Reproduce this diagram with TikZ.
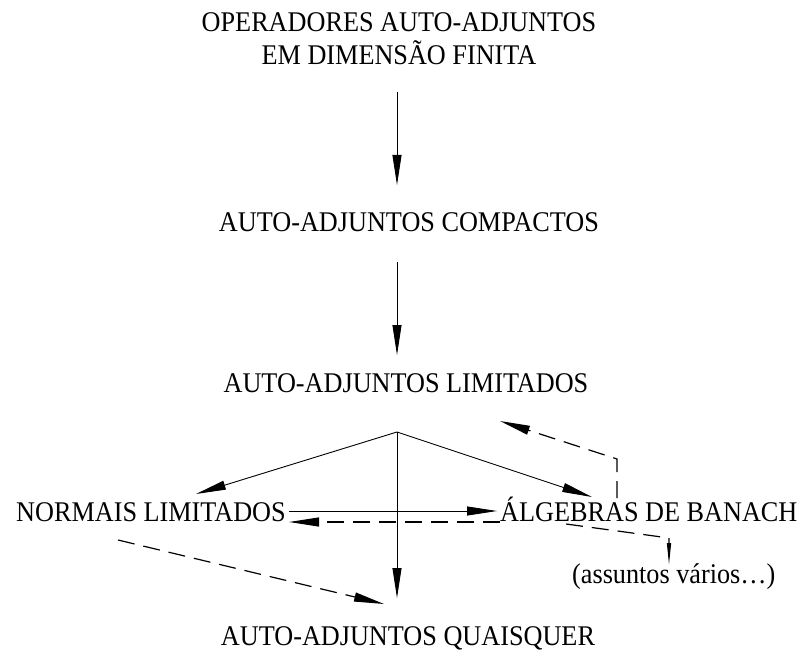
\documentclass[tikz,border=0pt]{standalone}
\usepackage{fontspec}
\setmainfont{Liberation Serif}[FakeStretch=0.92]
\usetikzlibrary{arrows.meta}
\tikzset{
  lbl/.style={inner sep=0pt, font=\fontsize{28.5}{33}\selectfont},
  conn/.style={line width=0.9pt, -{Triangle[length=30pt,width=9pt]}},
  smallconn/.style={line width=0.9pt, -{Triangle[length=22pt,width=4pt]}},
  dsh/.style={dash pattern=on 17pt off 9pt, line width=1.2pt},
}
\begin{document}
\begin{tikzpicture}[x=1pt,y=-1pt]
\useasboundingbox (0,0) rectangle (803,650);
% texts
\node[lbl, anchor=base, align=center] (top) at (399,65) {OPERADORES AUTO-ADJUNTOS\\EM DIMENSÃO FINITA};
\node[lbl, anchor=base] (comp) at (409,231) {AUTO-ADJUNTOS COMPACTOS};
\node[lbl, anchor=base] (lim) at (406,392) {AUTO-ADJUNTOS LIMITADOS};
\node[lbl, anchor=base west] (norm) at (16,521) {NORMAIS LIMITADOS};
\node[lbl, anchor=base west] (alg) at (500,521) {ÁLGEBRAS DE BANACH};
\node[lbl, anchor=base west] (ass) at (572,583) {(assuntos vários…)};
\node[lbl, anchor=base] (quai) at (408,645) {AUTO-ADJUNTOS QUAISQUER};
% points
\coordinate (a1s) at (397,92);   \coordinate (a1e) at (397,185);
\coordinate (a2s) at (397,262);  \coordinate (a2e) at (397,355);
\coordinate (j) at (397,432);
\coordinate (ln) at (196,494);
\coordinate (la) at (592,497);
\coordinate (lq) at (397,598);
\coordinate (hs) at (289,511);   \coordinate (he) at (497,511);
\coordinate (ds) at (500,522);   \coordinate (de) at (289,522);
\coordinate (ns) at (118,540);   \coordinate (ne) at (384,604);
\coordinate (us) at (617,498);   \coordinate (uc) at (617,459);   \coordinate (ue) at (500,421);
\coordinate (bs) at (566,524);   \coordinate (bc) at (669,538);   \coordinate (be) at (669,565);
% connectors
\draw[conn] (a1s) -- (a1e);
\draw[conn] (a2s) -- (a2e);
\draw[conn] (j) -- (ln);
\draw[conn] (j) -- (la);
\draw[conn] (j) -- (lq);
\draw[conn] (hs) -- (he);
\draw[conn, dsh] (ds) -- (de);
\draw[conn, dsh] (ns) -- (ne);
\draw[conn, dsh] (us) -- (uc) -- (ue);
\draw[smallconn, dsh] (bs) -- (bc) -- (be);
\end{tikzpicture}
\end{document}
